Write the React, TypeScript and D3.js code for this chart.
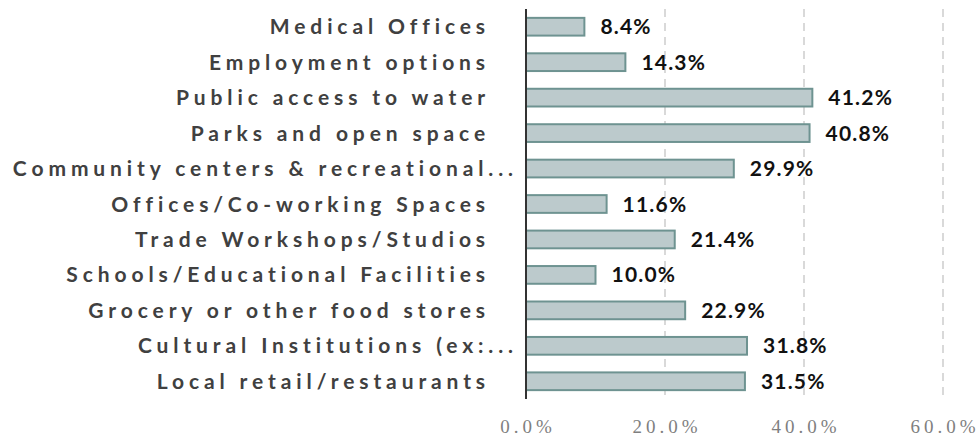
import React, { useRef, useEffect } from "react";
import * as d3 from "d3";

const categories = [
  "Medical Offices",
  "Employment options",
  "Public access to water",
  "Parks and open space",
  "Community centers & recreational...",
  "Offices/Co-working Spaces",
  "Trade Workshops/Studios",
  "Schools/Educational Facilities",
  "Grocery or other food stores",
  "Cultural Institutions (ex:...",
  "Local retail/restaurants",
];
const values = [8.4, 14.3, 41.2, 40.8, 29.9, 11.6, 21.4, 10.0, 22.9, 31.8, 31.5];
const ticks = [0, 20, 40, 60];

const App = () => {
  const ref = useRef<SVGSVGElement>(null);

  useEffect(() => {
    const svg = d3.select(ref.current);
    svg.selectAll("*").remove();

    const x = d3.scaleLinear().domain([0, 60]).range([526, 943]);
    const y = d3
      .scaleBand()
      .domain(categories)
      .range([9, 399])
      .paddingInner(0.5)
      .paddingOuter(0.25);

    // gridlines
    svg
      .append("g")
      .selectAll("line")
      .data(ticks.filter((t) => t > 0))
      .join("line")
      .attr("x1", (d) => x(d))
      .attr("x2", (d) => x(d))
      .attr("y1", 9)
      .attr("y2", 399)
      .attr("stroke", "#d9d9d9")
      .attr("stroke-width", 2)
      .attr("stroke-dasharray", "8,6");

    // bars
    svg
      .append("g")
      .selectAll("rect")
      .data(values)
      .join("rect")
      .attr("x", x(0))
      .attr("y", (d, i) => y(categories[i])!)
      .attr("width", (d) => x(d) - x(0))
      .attr("height", y.bandwidth())
      .attr("fill", "#bccacc")
      .attr("stroke", "#6e9391")
      .attr("stroke-width", 2);

    // value labels
    svg
      .append("g")
      .selectAll("text")
      .data(values)
      .join("text")
      .attr("x", (d) => x(d) + 16)
      .attr("y", (d, i) => y(categories[i])! + y.bandwidth() / 2)
      .attr("dy", "0.36em")
      .attr("font-family", "Lato")
      .attr("font-weight", 700)
      .attr("font-size", 21)
      .attr("letter-spacing", 1.2)
      .attr("fill", "#111")
      .text((d) => d.toFixed(1) + "%");

    // category labels
    svg
      .append("g")
      .selectAll("text")
      .data(categories)
      .join("text")
      .attr("x", (d) => (d.endsWith("...") ? 518 : 490))
      .attr("y", (d) => y(d)! + y.bandwidth() / 2)
      .attr("dy", "0.36em")
      .attr("text-anchor", "end")
      .attr("font-family", "Lato")
      .attr("font-weight", 700)
      .attr("font-size", 21)
      .attr("letter-spacing", 4.9)
      .attr("fill", "#404040")
      .text((d) => d);

    // axis line
    svg
      .append("line")
      .attr("x1", x(0))
      .attr("x2", x(0))
      .attr("y1", 9)
      .attr("y2", 399)
      .attr("stroke", "#333")
      .attr("stroke-width", 2);

    // tick labels
    svg
      .append("g")
      .selectAll("text")
      .data(ticks)
      .join("text")
      .attr("x", (d) => x(d) + 2)
      .attr("y", 433)
      .attr("text-anchor", "middle")
      .attr("font-family", "Liberation Serif")
      .attr("font-size", 19)
      .attr("letter-spacing", 4)
      .attr("fill", "#7f7f7f")
      .text((d) => d.toFixed(1) + "%");
  }, []);

  return (
    <svg
      ref={ref}
      width={980}
      height={438}
      style={{ position: "absolute", left: 0, top: 0, background: "#fff" }}
    ></svg>
  );
};

export default App;
